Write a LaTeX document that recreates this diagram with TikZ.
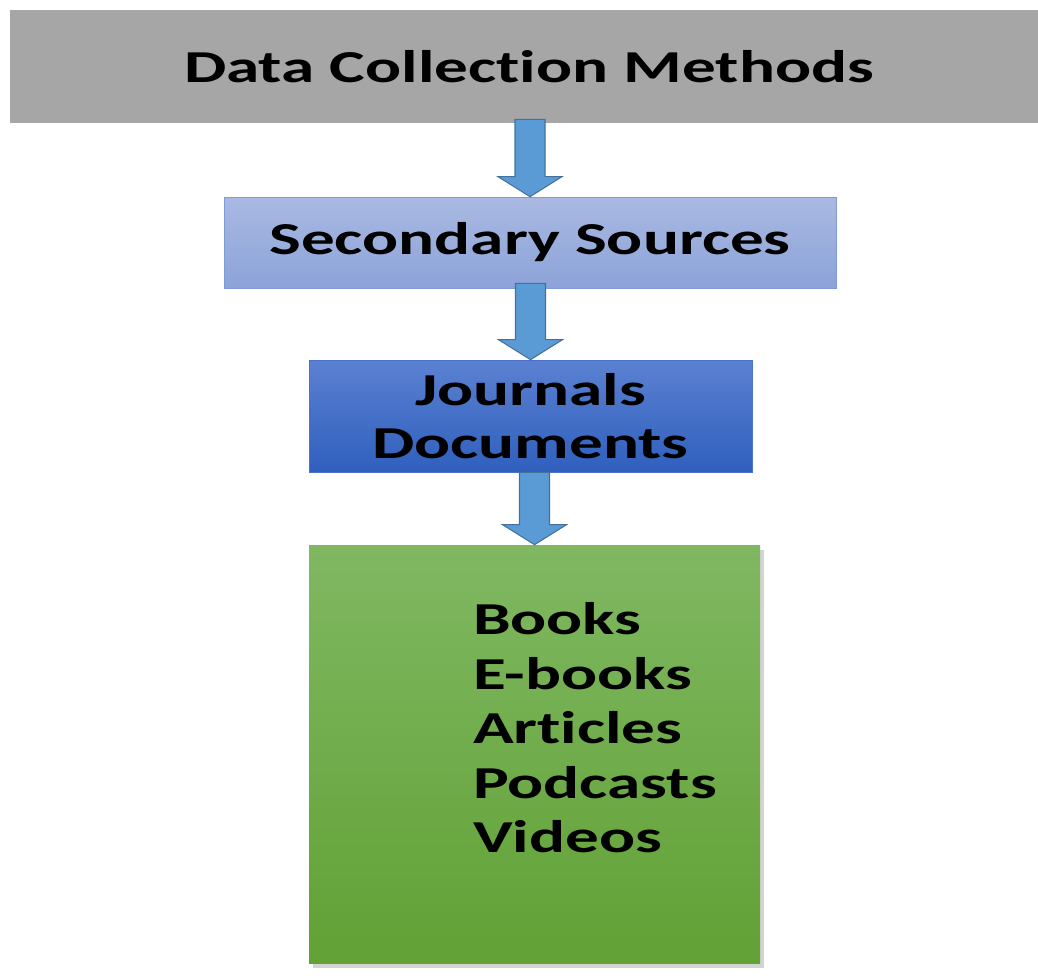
\documentclass[tikz,border=0pt]{standalone}
\usepackage{fontspec}
\setmainfont{Carlito}[FakeStretch=1.47,Ligatures=NoCommon]
\usetikzlibrary{calc,shadows}
\definecolor{boxgray}{HTML}{A6A6A6}
\definecolor{sectop}{HTML}{A9B9E2}
\definecolor{secbot}{HTML}{8CA3D8}
\definecolor{secedge}{HTML}{7F9BD6}
\definecolor{jourtop}{HTML}{5B81D1}
\definecolor{jourbot}{HTML}{2F5FBE}
\definecolor{jouredge}{HTML}{4A73C8}
\definecolor{greentop}{HTML}{80B862}
\definecolor{greenbot}{HTML}{61A135}
\definecolor{arrowfill}{HTML}{5B9BD5}
\definecolor{arrowedge}{HTML}{41719C}

\begin{document}
\begin{tikzpicture}
\tikzset{box/.style={rectangle,inner sep=0pt},
flow/.style={draw=arrowedge,fill=arrowfill,line width=0.6pt}}
\useasboundingbox (0,0) rectangle (20.76,-19.56);

\node[box,fill=boxgray,minimum width=20.56cm,minimum height=2.26cm,
font=\fontsize{26}{31}\selectfont\bfseries] (methods) at (10.48,-1.33) {\hspace{0.2cm}Data Collection Methods};
\node[box,draw=secedge,top color=sectop,bottom color=secbot,minimum width=12.24cm,minimum height=1.82cm,
font=\fontsize{26}{31}\selectfont\bfseries] (secondary) at (10.6,-4.85) {Secondary Sources};
\node[box,draw=jouredge,top color=jourtop,bottom color=jourbot,minimum width=8.86cm,minimum height=2.24cm,
align=center,font=\fontsize{26}{30}\selectfont\bfseries] (journals) at (10.61,-8.32) {Journals\\Documents};
\node[box,top color=greentop,bottom color=greenbot,minimum width=9.02cm,minimum height=8.36cm,
drop shadow={shadow xshift=0.08cm,shadow yshift=-0.1cm,opacity=0.35}] (sources) at (10.69,-15.08) {};
\node[anchor=north west,align=left,inner sep=0pt,font=\fontsize{26}{31}\selectfont\bfseries]
(items) at ([shift={(3.28cm,-1.15cm)}]sources.north west) {Books\\E-books\\Articles\\Podcasts\\Videos};

% block arrows between the boxes
\draw[flow] let \p1=(methods.south), \p2=(secondary.north) in
(\x2-0.3cm,\y1+0.08cm) -- (\x2+0.3cm,\y1+0.08cm) -- (\x2+0.3cm,\y2+0.4cm) -- (\x2+0.64cm,\y2+0.4cm)
-- (\x2,\y2) -- (\x2-0.64cm,\y2+0.4cm) -- (\x2-0.3cm,\y2+0.4cm) -- cycle;
\draw[flow] let \p1=(secondary.south), \p2=(journals.north) in
(\x2-0.3cm,\y1+0.1cm) -- (\x2+0.3cm,\y1+0.1cm) -- (\x2+0.3cm,\y2+0.4cm) -- (\x2+0.64cm,\y2+0.4cm)
-- (\x2,\y2) -- (\x2-0.64cm,\y2+0.4cm) -- (\x2-0.3cm,\y2+0.4cm) -- cycle;
\draw[flow] let \p1=(journals.south), \p2=(sources.north) in
(\x2-0.3cm,\y1) -- (\x2+0.3cm,\y1) -- (\x2+0.3cm,\y2+0.4cm) -- (\x2+0.64cm,\y2+0.4cm)
-- (\x2,\y2) -- (\x2-0.64cm,\y2+0.4cm) -- (\x2-0.3cm,\y2+0.4cm) -- cycle;

\end{tikzpicture}
\end{document}
